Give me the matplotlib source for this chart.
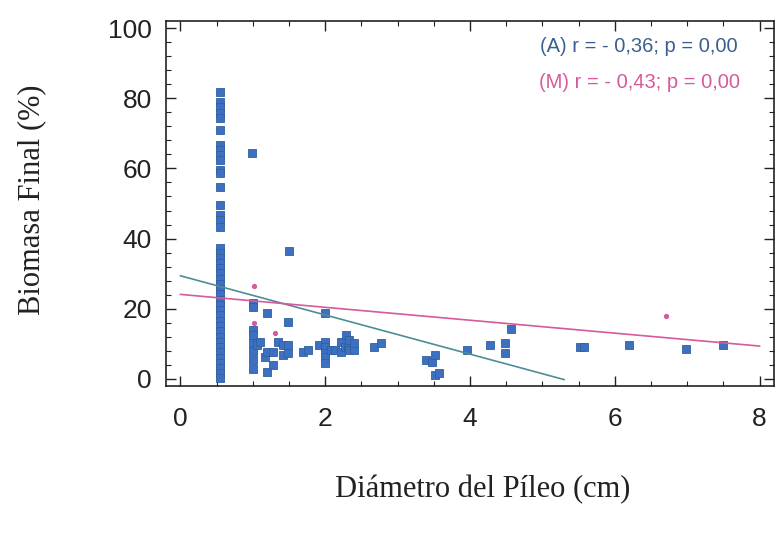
import matplotlib
matplotlib.use("Agg")
import matplotlib.pyplot as plt
from matplotlib.ticker import MultipleLocator

# ---- data ----
col_x = 0.55
col_y = [81.8, 79.0, 77.6, 75.7, 74.5, 70.9, 66.7, 65.3, 63.9, 62.4, 59.5, 58.6,
         54.8, 49.6, 46.7, 45.3, 43.4, 37.3, 36.0, 34.6, 33.1, 31.7, 30.2, 28.6,
         27.2, 25.7, 24.1, 22.6, 21.2, 19.7, 18.1, 16.6, 15.2, 13.7, 12.1, 10.6,
         9.2, 7.6, 6.1, 4.6, 3.1, 1.6, 0.3]

a_x = [0.99, 1.0, 1.0, 1.0, 1.0, 1.0, 1.0, 1.0, 1.0, 1.06, 1.10, 1.17, 1.19,
       1.19, 1.20, 1.28, 1.28, 1.35, 1.42, 1.42, 1.49, 1.49, 1.49, 1.50, 1.69,
       1.76, 1.92, 1.99, 1.99, 1.99, 1.99, 1.99, 1.99, 2.08, 2.13, 2.22, 2.22,
       2.27, 2.29, 2.31, 2.33, 2.33, 2.40, 2.40, 2.68, 2.77, 3.39, 3.48, 3.51,
       3.51, 3.57, 3.96, 4.28, 4.49, 4.49, 4.56, 5.52, 5.57, 6.19, 6.99, 7.49]
a_y = [64.5, 21.7, 20.5, 14.0, 12.5, 10.2, 8.0, 5.5, 2.8, 9.8, 10.6, 6.4, 18.7,
       2.1, 7.8, 7.8, 4.0, 10.6, 9.7, 6.8, 9.7, 7.4, 16.3, 36.4, 7.8,
       8.3, 9.7, 18.7, 10.6, 9.0, 7.5, 6.4, 4.6, 8.3, 8.3, 10.6, 7.8,
       9.2, 12.5, 8.8, 11.1, 8.3, 8.3, 10.2, 9.2, 10.2, 5.4, 4.9, 6.8,
       1.1, 1.6, 8.3, 9.7, 10.2, 7.3, 14.1, 9.0, 9.0, 9.7, 8.5, 9.7]

m_x = [0.55, 1.01, 1.01, 1.31, 6.71]
m_y = [30.5, 26.5, 16.0, 13.0, 17.9]

# regression lines (intercept, slope, x-range)
a_line_x = [0.0, 5.3]
a_line_b = [29.4, -5.58]
m_line_x = [0.0, 8.0]
m_line_b = [24.1, -1.84]

x_ticks = [0, 2, 4, 6, 8]
y_ticks = [0, 20, 40, 60, 80, 100]

label_a = "(A) r = - 0,36; p = 0,00"
label_m = "(M) r = - 0,43; p = 0,00"
x_label = "Diámetro del Píleo (cm)"
y_label = "Biomasa Final (%)"

# ---- plot ----
fig = plt.figure(figsize=(7.76, 5.33), dpi=100)
ax = fig.add_axes([166/776, 1-386/533, (774-166)/776, (386-21)/533])

blue = '#3e70c2'
pink = '#d65a9c'
teal = '#4f8d96'

ax.plot([col_x]*len(col_y), col_y, 's', color=blue, mec='#30609f', mew=0.6, ms=5.8, zorder=3)
ax.plot(a_x, a_y, 's', color=blue, mec='#30609f', mew=0.6, ms=5.8, zorder=3)
ax.plot(m_x, m_y, 'o', color=pink, ms=3.8, mew=0, zorder=2)

lx = a_line_x
ax.plot(lx, [a_line_b[0] + a_line_b[1]*v for v in lx], color=teal, lw=1.2, zorder=4)
lx = m_line_x
ax.plot(lx, [m_line_b[0] + m_line_b[1]*v for v in lx], color=pink, lw=1.2, zorder=4)

ax.set_xlim(-0.2, 8.2)
ax.set_ylim(-2, 102)
ax.set_xticks(x_ticks)
ax.set_yticks(y_ticks)
ax.xaxis.set_minor_locator(MultipleLocator(0.5))
ax.yaxis.set_minor_locator(MultipleLocator(4))
ax.tick_params(which='both', direction='in', top=True, right=True, color='#222222')
ax.tick_params(which='major', length=7, width=1.0)
ax.tick_params(which='minor', length=3.5, width=0.8)
ax.tick_params(axis='x', pad=15)
ax.tick_params(axis='y', pad=10)
for lab in ax.get_xticklabels() + ax.get_yticklabels():
    lab.set_fontfamily('Liberation Sans')
    lab.set_fontsize(19)
    lab.set_color('#222222')
for s in ax.spines.values():
    s.set_linewidth(1.2)
    s.set_color('#222222')

fig.text(540/776, 1-47/533, label_a, color='#3d5f90', fontsize=14.5,
         family='Liberation Sans', ha='left', va='center')
fig.text(539/776, 1-82/533, label_m, color=pink, fontsize=14.5,
         family='Liberation Sans', ha='left', va='center')

fig.text(483/776, 1-490/533, x_label, fontsize=22, family='Liberation Serif',
         ha='center', va='center', color='#222222')
fig.text(32/776, 1-200/533, y_label, fontsize=22, family='Liberation Serif',
         ha='center', va='center', rotation=90, color='#222222')

fig.savefig('out.png', dpi=100)
